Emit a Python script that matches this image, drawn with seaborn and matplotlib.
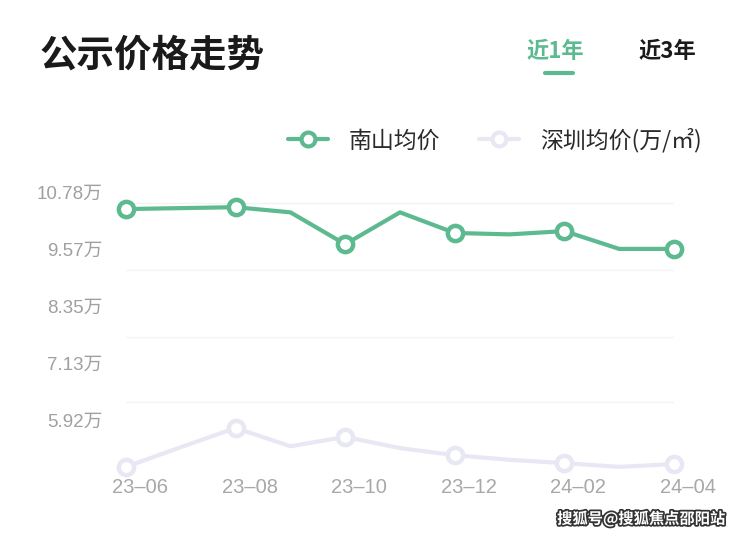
import numpy as np
import pandas as pd
import matplotlib
matplotlib.use("Agg")
import matplotlib.pyplot as plt
import matplotlib.patheffects as pe
import matplotlib.transforms as mtrans
from matplotlib.lines import Line2D
import seaborn as sns

# data (万元/㎡)
months = ["23-06", "23-07", "23-08", "23-09", "23-10", "23-11",
          "23-12", "24-01", "24-02", "24-03", "24-04"]
nanshan = [10.42, 10.44, 10.46, 10.35, 9.67, 10.35, 9.91, 9.88, 9.95, 9.57, 9.57]
shenzhen = [4.92, 5.34, 5.75, 5.36, 5.56, 5.32, 5.17, 5.07, 5.00, 4.92, 4.98]
ytick_vals = [10.78, 9.57, 8.35, 7.13, 5.92]
ytick_labels = ["10.78万", "9.57万", "8.35万", "7.13万", "5.92万"]
grid_vals = [10.55, 9.12, 7.69, 6.30]
series_names = ["南山均价", "深圳均价(万/㎡)"]

green = "#5db98f"
lav = "#e8e8f4"
num_font = ["Liberation Sans", "Noto Sans CJK SC", "DejaVu Sans"]

sns.set_style("white")
plt.rcParams["font.family"] = ["Noto Sans CJK SC", "DejaVu Sans"]

df = pd.DataFrame({"idx": np.arange(len(months)), "nanshan": nanshan, "shenzhen": shenzhen})

fig = plt.figure(figsize=(7.4, 5.36), dpi=100)
ax = fig.add_axes([126 / 740, 1 - 468 / 536, (674 - 126) / 740, (468 - 180) / 536])

for g in grid_vals:
    ax.axhline(g, color="#f3f3f3", lw=1, zorder=0)

mk = dict(marker="o", markevery=list(range(0, len(months), 2)), markersize=11,
          markerfacecolor="white", markeredgewidth=3.2, clip_on=False)
sns.lineplot(data=df, x="idx", y="shenzhen", ax=ax, color=lav, lw=3,
             markeredgecolor=lav, zorder=3, **mk)
sns.lineplot(data=df, x="idx", y="nanshan", ax=ax, color=green, lw=3,
             markeredgecolor=green, zorder=4, **mk)

ax.set_xlim(0, len(months) - 1)
ax.set_ylim(4.896, 11.04)
ax.set_xticks(df["idx"][::2])
ax.set_xticklabels([m.replace("-", "–") for m in months[::2]], family=num_font)
ax.set_yticks(ytick_vals)
ax.set_yticklabels(ytick_labels, family=num_font)
ax.tick_params(axis="x", length=0, pad=7, labelsize=14.5, labelcolor="#a8a8a8")
ax.tick_params(axis="y", length=0, pad=17, labelsize=13.5, labelcolor="#a0a0a0")
# x labels sit a little to the right of their points in the reference
shift = mtrans.ScaledTranslation(14 / 100, 0, fig.dpi_scale_trans)
for lab in ax.get_xticklabels():
    lab.set_transform(lab.get_transform() + shift)
ax.set_xlabel("")
ax.set_ylabel("")
for s in ax.spines.values():
    s.set_visible(False)

# legend
handles = [Line2D([], [], color=c, lw=3, marker="o", markersize=10,
                  markerfacecolor="white", markeredgecolor=c, markeredgewidth=3)
           for c in (green, lav)]
fig.legend(handles, series_names, loc="center", bbox_to_anchor=(495 / 740, 1 - 140 / 536),
           ncol=2, frameon=False, fontsize=16.5, handlelength=1.75, columnspacing=1.7,
           handletextpad=0.9, labelcolor="#2a2a2a")

# header
fig.text(40 / 740, 1 - 55 / 536, "公示价格走势", fontsize=27, fontweight="bold",
         color="#1a1a1a", va="center", ha="left")
fig.text(555 / 740, 1 - 52 / 536, "近1年", fontsize=16, fontweight="bold",
         color=green, va="center", ha="center")
fig.text(667 / 740, 1 - 52 / 536, "近3年", fontsize=16, fontweight="bold",
         color="#1a1a1a", va="center", ha="center")
fig.add_artist(Line2D([545 / 740, 573 / 740], [1 - 73 / 536, 1 - 73 / 536],
                      color=green, lw=3, transform=fig.transFigure))

# watermark
fig.text(725 / 740, 1 - 519 / 536, "搜狐号@搜狐焦点邵阳站", fontsize=11, fontweight="bold",
         color="white", ha="right", va="center",
         path_effects=[pe.withStroke(linewidth=2.5, foreground="#333333")])

fig.savefig("out.png", dpi=100)
